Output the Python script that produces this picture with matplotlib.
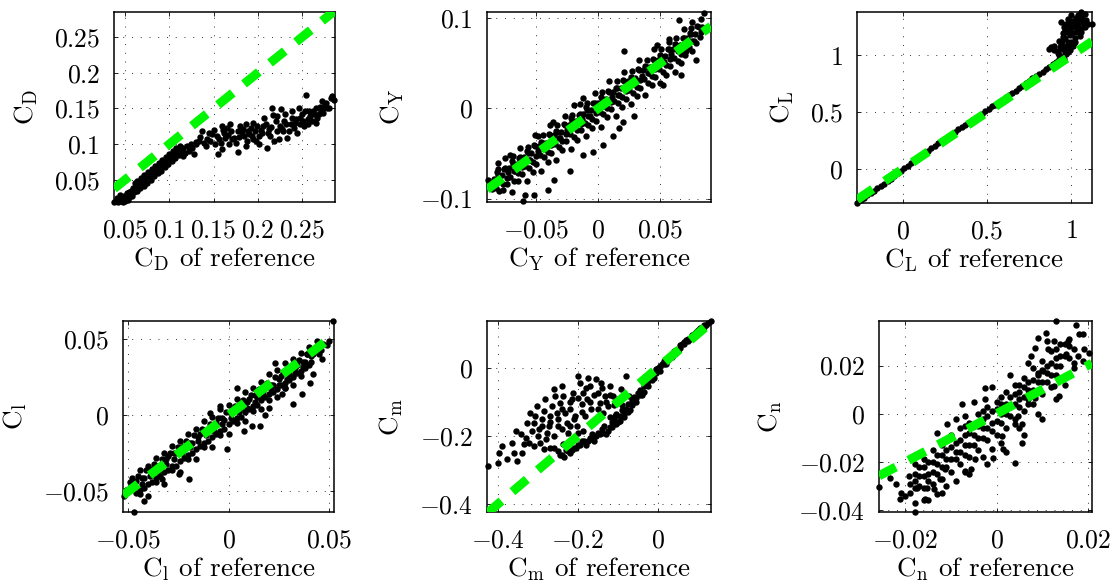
import numpy as np
import matplotlib.pyplot as plt

plt.rcParams['font.family'] = 'serif'
plt.rcParams['font.serif'] = ['cmr10']
plt.rcParams['mathtext.fontset'] = 'cm'
plt.rcParams['axes.formatter.use_mathtext'] = True

# (reference, estimate) pairs for each coefficient
cd_pts = [
    (0.038, 0.019), (0.040, 0.021), (0.042, 0.019), (0.043, 0.023), (0.045, 0.020),
    (0.047, 0.022), (0.048, 0.019), (0.050, 0.021), (0.051, 0.024), (0.053, 0.022),
    (0.046, 0.026), (0.041, 0.025), (0.055, 0.026), (0.056, 0.030), (0.058, 0.027),
    (0.049, 0.028), (0.052, 0.031), (0.060, 0.033), (0.057, 0.035), (0.044, 0.029),
    (0.062, 0.041), (0.063, 0.034), (0.064, 0.048), (0.066, 0.045), (0.067, 0.038),
    (0.068, 0.053), (0.070, 0.050), (0.071, 0.042), (0.072, 0.057), (0.074, 0.054),
    (0.075, 0.046), (0.076, 0.061), (0.078, 0.058), (0.079, 0.050), (0.080, 0.065),
    (0.082, 0.062), (0.083, 0.055), (0.084, 0.069), (0.086, 0.067), (0.087, 0.059),
    (0.088, 0.073), (0.090, 0.071), (0.091, 0.063), (0.092, 0.078), (0.094, 0.075),
    (0.095, 0.068), (0.096, 0.082), (0.098, 0.079), (0.099, 0.072), (0.100, 0.086),
    (0.102, 0.084), (0.103, 0.076), (0.104, 0.090), (0.106, 0.088), (0.107, 0.080),
    (0.108, 0.094), (0.110, 0.092), (0.111, 0.085), (0.112, 0.097),
    (0.054, 0.033), (0.059, 0.038), (0.061, 0.045), (0.065, 0.042), (0.069, 0.047),
    (0.073, 0.051), (0.077, 0.055), (0.081, 0.059), (0.085, 0.063), (0.089, 0.068),
    (0.093, 0.072), (0.097, 0.076), (0.101, 0.080), (0.105, 0.084), (0.109, 0.089),
    (0.113, 0.090),
    (0.115, 0.094), (0.118, 0.088), (0.120, 0.097), (0.122, 0.091), (0.124, 0.100),
    (0.126, 0.094), (0.128, 0.086), (0.130, 0.103), (0.116, 0.083),
    (0.137, 0.118), (0.143, 0.107), (0.148, 0.114), (0.152, 0.100), (0.155, 0.086),
    (0.160, 0.093), (0.165, 0.123), (0.169, 0.128), (0.173, 0.109), (0.177, 0.089),
    (0.180, 0.125), (0.184, 0.111), (0.188, 0.104), (0.192, 0.123), (0.195, 0.130),
    (0.201, 0.111), (0.207, 0.137), (0.210, 0.095), (0.216, 0.151), (0.222, 0.118),
    (0.226, 0.149), (0.229, 0.132), (0.233, 0.109), (0.237, 0.128), (0.241, 0.123),
    (0.246, 0.151), (0.248, 0.137), (0.252, 0.125), (0.254, 0.169), (0.258, 0.146),
    (0.261, 0.132), (0.265, 0.151), (0.269, 0.142), (0.272, 0.161), (0.276, 0.156),
    (0.282, 0.165), (0.284, 0.167), (0.212, 0.121), (0.205, 0.116), (0.197, 0.118),
    (0.190, 0.114), (0.182, 0.117), (0.171, 0.107), (0.163, 0.109), (0.156, 0.107),
    (0.141, 0.097), (0.133, 0.104), (0.130, 0.100), (0.145, 0.116), (0.162, 0.116),
    (0.167, 0.100), (0.178, 0.118), (0.194, 0.107), (0.199, 0.125), (0.209, 0.128),
    (0.214, 0.111), (0.220, 0.132), (0.227, 0.121), (0.231, 0.142), (0.239, 0.137),
    (0.242, 0.130), (0.250, 0.142), (0.256, 0.135), (0.259, 0.139), (0.263, 0.142),
    (0.267, 0.137), (0.271, 0.146), (0.273, 0.151), (0.278, 0.151), (0.224, 0.107),
    (0.201, 0.100),
    (0.135, 0.110), (0.139, 0.101), (0.146, 0.104), (0.150, 0.120), (0.154, 0.112),
    (0.158, 0.102), (0.161, 0.120), (0.166, 0.113), (0.170, 0.118), (0.175, 0.102),
    (0.179, 0.110), (0.183, 0.121), (0.186, 0.098), (0.189, 0.118), (0.193, 0.112),
    (0.198, 0.104), (0.203, 0.120), (0.206, 0.126), (0.211, 0.116), (0.215, 0.124),
    (0.218, 0.104), (0.221, 0.140), (0.225, 0.126), (0.228, 0.118), (0.232, 0.128),
    (0.235, 0.119), (0.238, 0.146), (0.243, 0.135), (0.247, 0.128), (0.251, 0.133),
    (0.253, 0.146), (0.257, 0.128), (0.262, 0.146), (0.266, 0.130), (0.270, 0.152),
    (0.274, 0.144), (0.277, 0.158), (0.280, 0.150), (0.286, 0.162), (0.244, 0.116),
    (0.217, 0.141), (0.187, 0.128), (0.159, 0.126),
]

cy_pts = [
    (-0.085, -0.083), (-0.079, -0.080), (-0.073, -0.071), (-0.067, -0.069), (-0.061, -0.060),
    (-0.055, -0.057), (-0.049, -0.047), (-0.043, -0.045), (-0.037, -0.036), (-0.031, -0.033),
    (-0.025, -0.024), (-0.019, -0.021), (-0.013, -0.012), (-0.007, -0.009), (-0.001, 0.001),
    (0.005, 0.003), (0.011, 0.012), (0.017, 0.015), (0.023, 0.024), (0.029, 0.027),
    (0.035, 0.036), (0.041, 0.039), (0.047, 0.048), (0.053, 0.051), (0.059, 0.060),
    (0.065, 0.063), (0.071, 0.072), (0.077, 0.075), (0.083, 0.084),
    (-0.082, -0.071), (-0.076, -0.067), (-0.070, -0.058), (-0.064, -0.055), (-0.058, -0.047),
    (-0.052, -0.041), (-0.046, -0.037), (-0.040, -0.029), (-0.034, -0.025), (-0.028, -0.017),
    (-0.022, -0.011), (-0.016, -0.007), (-0.010, 0.001), (-0.004, 0.006), (0.002, 0.012),
    (0.008, 0.019), (0.014, 0.023), (0.020, 0.031), (0.026, 0.035), (0.032, 0.043),
    (0.038, 0.047), (0.044, 0.055), (0.050, 0.059), (0.056, 0.066), (0.062, 0.071),
    (0.068, 0.078), (0.074, 0.083), (0.080, 0.091),
    (-0.080, -0.092), (-0.074, -0.084), (-0.068, -0.080), (-0.062, -0.073), (-0.056, -0.066),
    (-0.050, -0.062), (-0.044, -0.054), (-0.038, -0.050), (-0.032, -0.043), (-0.026, -0.036),
    (-0.020, -0.032), (-0.014, -0.024), (-0.008, -0.019), (-0.002, -0.014), (0.004, -0.006),
    (0.010, -0.001), (0.016, 0.006), (0.022, 0.010), (0.028, 0.017), (0.034, 0.023),
    (0.040, 0.028), (0.046, 0.035), (0.052, 0.040), (0.058, 0.047), (0.064, 0.052),
    (0.070, 0.059), (0.076, 0.064),
    (-0.084, -0.078), (-0.078, -0.074), (-0.072, -0.066), (-0.066, -0.062), (-0.060, -0.054),
    (-0.054, -0.050), (-0.048, -0.042), (-0.042, -0.038), (-0.036, -0.030), (-0.030, -0.026),
    (-0.024, -0.018), (-0.018, -0.014), (-0.012, -0.006), (-0.006, -0.002), (0.000, 0.006),
    (0.006, 0.010), (0.012, 0.018), (0.018, 0.022), (0.024, 0.030), (0.030, 0.034),
    (0.036, 0.042), (0.042, 0.046), (0.048, 0.054), (0.054, 0.058), (0.060, 0.066),
    (0.066, 0.070), (0.072, 0.078), (0.078, 0.082), (0.084, 0.090),
    (-0.083, -0.088), (-0.077, -0.084), (-0.071, -0.076), (-0.065, -0.072), (-0.059, -0.064),
    (-0.053, -0.060), (-0.047, -0.052), (-0.041, -0.048), (-0.035, -0.040), (-0.029, -0.036),
    (-0.023, -0.028), (-0.017, -0.024), (-0.011, -0.016), (-0.005, -0.012), (0.001, -0.004),
    (0.007, 0.000), (0.013, 0.008), (0.019, 0.012), (0.025, 0.020), (0.031, 0.024),
    (0.037, 0.032), (0.043, 0.036), (0.049, 0.044), (0.055, 0.048), (0.061, 0.056),
    (0.067, 0.060), (0.073, 0.068), (0.079, 0.072),
    (-0.086, -0.089), (-0.080, -0.081), (-0.074, -0.077), (-0.068, -0.069), (-0.062, -0.065),
    (-0.056, -0.057), (-0.050, -0.053), (-0.044, -0.045), (-0.038, -0.041), (-0.032, -0.033),
    (-0.026, -0.029), (-0.020, -0.021), (-0.014, -0.017), (-0.008, -0.009), (-0.002, -0.005),
    (0.004, 0.003), (0.010, 0.007), (0.016, 0.015), (0.022, 0.019), (0.028, 0.027),
    (0.034, 0.031), (0.040, 0.039), (0.046, 0.043), (0.052, 0.051), (0.058, 0.055),
    (0.064, 0.063), (0.070, 0.067), (0.076, 0.075), (0.082, 0.079),
    (-0.081, -0.074), (-0.075, -0.066), (-0.069, -0.062), (-0.063, -0.054), (-0.057, -0.050),
    (-0.051, -0.042), (-0.045, -0.038), (-0.039, -0.030), (-0.033, -0.026), (-0.027, -0.018),
    (-0.021, -0.014), (-0.015, -0.006), (-0.009, -0.002), (-0.003, 0.006), (0.003, 0.010),
    (0.009, 0.018), (0.015, 0.022), (0.021, 0.030), (0.027, 0.034), (0.033, 0.042),
    (0.039, 0.046), (0.045, 0.054), (0.051, 0.058), (0.057, 0.066), (0.063, 0.070),
    (0.069, 0.078), (0.075, 0.082), (0.081, 0.090),
    (-0.070, -0.093), (-0.058, -0.081), (-0.046, -0.069), (-0.034, -0.057), (-0.022, -0.045),
    (-0.010, -0.031), (0.002, -0.021), (0.014, -0.009), (0.026, 0.005), (0.038, 0.015),
    (0.050, 0.028), (0.062, 0.040),
    (-0.065, -0.081), (-0.053, -0.071), (-0.041, -0.059), (-0.029, -0.046), (-0.017, -0.035),
    (-0.005, -0.022), (0.007, -0.010), (0.019, 0.001), (0.031, 0.014), (0.043, 0.026),
    (0.055, 0.037), (0.067, 0.050),
    (-0.075, -0.055), (-0.063, -0.044), (-0.051, -0.030), (-0.039, -0.019), (-0.027, -0.008),
    (-0.015, 0.005), (-0.003, 0.017), (0.009, 0.030), (0.021, 0.040), (0.033, 0.053),
    (0.045, 0.066), (0.057, 0.077), (0.069, 0.088),
    (-0.081, -0.067), (-0.069, -0.053), (-0.057, -0.043), (-0.045, -0.030), (-0.033, -0.018),
    (-0.021, -0.007), (-0.009, 0.006), (0.003, 0.018), (0.015, 0.030), (0.027, 0.041),
    (0.039, 0.054), (0.051, 0.066), (0.063, 0.078), (0.075, 0.089),
    (0.085, 0.106), (0.065, 0.098), (0.076, 0.096), (0.083, 0.099), (0.021, 0.064),
    (0.071, 0.063), (0.079, 0.053), (0.067, 0.037), (0.052, 0.026), (0.029, -0.009),
    (0.020, -0.015), (0.017, -0.022), (0.012, -0.031), (0.004, -0.041), (-0.004, -0.048),
    (-0.012, -0.052), (-0.023, -0.070), (-0.036, -0.079), (-0.041, -0.090), (-0.052, -0.096),
    (-0.059, -0.096), (-0.061, -0.103), (-0.077, -0.090), (-0.089, -0.079), (-0.081, -0.061),
    (-0.071, -0.052), (-0.037, -0.015), (-0.049, -0.031), (-0.020, 0.004), (-0.012, 0.011),
    (0.057, 0.074), (0.047, 0.070),
]

cl_pts = [
    (-0.271, -0.300), (-0.25, -0.272), (-0.23, -0.255), (-0.21, -0.232), (-0.19, -0.214),
    (-0.17, -0.190), (-0.15, -0.172), (-0.13, -0.148), (-0.11, -0.130), (-0.09, -0.106),
    (-0.07, -0.086), (-0.05, -0.062), (-0.03, -0.040), (-0.01, -0.018), (0.01, 0.008),
    (0.03, 0.026), (0.05, 0.052), (0.07, 0.071), (0.09, 0.096), (0.11, 0.113),
    (0.13, 0.140), (0.15, 0.157), (0.17, 0.182), (0.19, 0.200), (0.21, 0.226),
    (0.23, 0.243), (0.25, 0.268), (0.27, 0.285), (0.29, 0.310), (0.31, 0.326),
    (0.33, 0.350), (0.35, 0.366), (0.37, 0.390), (0.39, 0.406), (0.41, 0.430),
    (0.43, 0.446), (0.45, 0.470), (0.47, 0.486), (0.49, 0.510), (0.51, 0.526),
    (0.53, 0.550), (0.55, 0.566), (0.57, 0.590), (0.59, 0.606), (0.61, 0.630),
    (0.63, 0.648), (0.65, 0.672), (0.67, 0.690), (0.69, 0.714), (0.71, 0.730),
    (0.73, 0.756), (0.75, 0.772), (0.77, 0.798), (0.79, 0.815), (0.81, 0.840),
    (0.83, 0.858), (0.85, 0.884), (0.87, 0.900), (0.89, 0.926), (0.91, 0.946),
    (0.93, 0.970), (0.95, 0.990), (0.97, 1.010),
    (0.879, 1.073), (0.899, 1.044), (0.869, 1.059), (0.939, 1.294), (0.998, 1.353),
    (1.040, 1.359), (1.079, 1.368), (1.099, 1.279), (1.122, 1.279), (1.059, 1.206),
    (1.020, 1.118), (0.978, 1.029), (0.958, 0.971), (0.929, 1.000), (0.998, 1.250),
    (0.94, 1.10), (0.95, 1.16), (0.96, 1.22), (0.97, 1.28), (0.98, 1.12),
    (0.99, 1.18), (1.00, 1.24), (1.01, 1.30), (1.02, 1.15), (1.03, 1.21),
    (1.04, 1.27), (1.05, 1.17), (1.06, 1.23), (1.07, 1.29), (0.95, 1.06),
    (0.97, 1.08), (0.99, 1.05), (1.01, 1.08), (0.93, 1.13), (0.96, 1.27),
    (0.98, 1.32), (1.03, 1.33), (1.08, 1.25), (1.09, 1.31), (0.92, 1.04),
    (0.90, 1.08), (0.96, 1.02), (1.00, 1.12), (1.06, 1.38), (0.95, 1.20),
    (0.935, 1.07), (0.945, 1.13), (0.955, 1.25), (0.965, 1.15), (0.975, 1.21),
    (0.985, 1.26), (0.995, 1.30), (1.005, 1.20), (1.015, 1.26), (1.025, 1.29),
    (1.035, 1.24), (1.045, 1.31), (1.055, 1.35), (1.065, 1.33), (1.075, 1.27),
    (0.985, 1.09), (1.015, 1.11), (1.045, 1.21), (0.965, 1.05), (0.92, 1.02),
]

croll_pts = [
    (-0.050, -0.049), (-0.046, -0.043), (-0.042, -0.041), (-0.038, -0.035), (-0.034, -0.033),
    (-0.030, -0.027), (-0.026, -0.025), (-0.022, -0.020), (-0.018, -0.018), (-0.014, -0.012),
    (-0.010, -0.010), (-0.006, -0.005), (-0.002, -0.003), (0.002, 0.003), (0.006, 0.005),
    (0.010, 0.011), (0.014, 0.012), (0.018, 0.018), (0.022, 0.020), (0.026, 0.026),
    (0.030, 0.027), (0.034, 0.033), (0.038, 0.035), (0.042, 0.040), (0.046, 0.043),
    (0.050, 0.049),
    (-0.048, -0.041), (-0.044, -0.036), (-0.040, -0.033), (-0.036, -0.028), (-0.032, -0.025),
    (-0.028, -0.020), (-0.024, -0.017), (-0.020, -0.012), (-0.016, -0.009), (-0.012, -0.004),
    (-0.008, -0.001), (-0.004, 0.004), (0.000, 0.007), (0.004, 0.011), (0.008, 0.015),
    (0.012, 0.018), (0.016, 0.022), (0.020, 0.027), (0.024, 0.030), (0.028, 0.034),
    (0.032, 0.037), (0.036, 0.041), (0.040, 0.045), (0.044, 0.049),
    (-0.049, -0.044), (-0.045, -0.040), (-0.041, -0.036), (-0.037, -0.032), (-0.033, -0.029),
    (-0.029, -0.025), (-0.025, -0.021), (-0.021, -0.017), (-0.017, -0.013), (-0.013, -0.009),
    (-0.009, -0.006), (-0.005, -0.002), (-0.001, 0.002), (0.003, 0.006), (0.007, 0.010),
    (0.011, 0.013), (0.015, 0.017), (0.019, 0.021), (0.023, 0.025), (0.027, 0.028),
    (0.031, 0.032), (0.035, 0.036), (0.039, 0.040), (0.043, 0.044), (0.047, 0.047),
    (-0.047, -0.048), (-0.043, -0.045), (-0.039, -0.040), (-0.035, -0.037), (-0.031, -0.032),
    (-0.027, -0.029), (-0.023, -0.025), (-0.019, -0.021), (-0.015, -0.017), (-0.011, -0.013),
    (-0.007, -0.010), (-0.003, -0.006), (0.001, -0.002), (0.005, 0.002), (0.009, 0.005),
    (0.013, 0.009), (0.017, 0.013), (0.021, 0.017), (0.025, 0.020), (0.029, 0.024),
    (0.033, 0.028), (0.037, 0.032), (0.041, 0.035), (0.045, 0.040),
    (-0.051, -0.049), (-0.047, -0.045), (-0.043, -0.041), (-0.039, -0.036), (-0.035, -0.033),
    (-0.031, -0.029), (-0.027, -0.025), (-0.023, -0.021), (-0.019, -0.018), (-0.015, -0.014),
    (-0.011, -0.010), (-0.007, -0.006), (-0.003, -0.002), (0.001, 0.002), (0.005, 0.005),
    (0.009, 0.009), (0.013, 0.013), (0.017, 0.016), (0.021, 0.020), (0.025, 0.024),
    (0.029, 0.028), (0.033, 0.031), (0.037, 0.035), (0.041, 0.039), (0.045, 0.042),
    (0.049, 0.046),
    (-0.044, -0.049), (-0.040, -0.045), (-0.036, -0.041), (-0.032, -0.037), (-0.028, -0.033),
    (-0.024, -0.030), (-0.020, -0.026), (-0.016, -0.022), (-0.012, -0.018), (-0.008, -0.014),
    (-0.004, -0.010), (0.000, -0.006), (0.004, -0.002), (0.008, 0.002), (0.012, 0.006),
    (0.016, 0.010), (0.020, 0.014), (0.024, 0.017), (0.028, 0.021), (0.032, 0.025),
    (0.036, 0.029), (0.040, 0.033),
    (-0.046, -0.051), (-0.042, -0.048), (-0.038, -0.044), (-0.034, -0.040), (-0.030, -0.036),
    (-0.026, -0.033), (-0.022, -0.028), (-0.018, -0.025), (-0.014, -0.020), (-0.010, -0.017),
    (-0.006, -0.012), (-0.002, -0.009), (0.002, -0.004), (0.006, -0.001), (0.010, 0.004),
    (0.014, 0.007), (0.018, 0.012), (0.022, 0.015), (0.026, 0.020), (0.030, 0.023),
    (0.034, 0.028), (0.038, 0.031),
    (-0.044, -0.052), (-0.036, -0.044), (-0.028, -0.036), (-0.020, -0.029), (-0.012, -0.021),
    (-0.004, -0.013), (0.004, -0.005), (0.012, 0.003), (0.020, 0.010), (0.028, 0.018),
    (0.036, 0.026),
    (-0.040, -0.053), (-0.032, -0.045), (-0.024, -0.037), (-0.016, -0.029), (-0.008, -0.021),
    (0.000, -0.012), (0.008, -0.004), (0.016, 0.004), (0.024, 0.012), (0.032, 0.020),
    (0.0522, 0.0619), (0.0464, 0.0368), (0.0406, 0.0214), (0.0423, 0.0269), (0.0365, 0.0138),
    (0.0323, 0.0072), (0.0265, 0.0138), (0.0158, -0.0070), (0.0116, -0.0070), (0.0075, -0.0103),
    (-0.0005, -0.0223), (-0.0091, 0.0018), (-0.0041, 0.0061), (0.0041, 0.0182), (-0.0199, -0.0420),
    (-0.0249, -0.0387), (-0.0332, -0.0420), (-0.0473, -0.0632), (-0.0423, -0.0562), (-0.0522, -0.0530),
    (0.0232, 0.0346), (0.0390, 0.0400), (0.0200, 0.0050), (0.0280, 0.0180), (0.0180, 0.0000),
]

cm_pts = [
    (-0.25, -0.245), (-0.24, -0.255), (-0.23, -0.240), (-0.22, -0.250), (-0.21, -0.235),
    (-0.20, -0.225), (-0.19, -0.215), (-0.18, -0.225), (-0.17, -0.205), (-0.165, -0.195),
    (-0.16, -0.215), (-0.15, -0.190), (-0.14, -0.180), (-0.135, -0.170), (-0.13, -0.195),
    (-0.12, -0.175), (-0.115, -0.160), (-0.11, -0.150), (-0.10, -0.160), (-0.095, -0.140),
    (-0.09, -0.125), (-0.085, -0.145), (-0.08, -0.120), (-0.075, -0.105), (-0.07, -0.125),
    (-0.065, -0.095), (-0.06, -0.085), (-0.055, -0.100), (-0.05, -0.075), (-0.045, -0.065),
    (-0.04, -0.080), (-0.035, -0.055), (-0.03, -0.045), (-0.025, -0.055), (-0.02, -0.030),
    (-0.015, -0.020), (-0.01, -0.030), (-0.005, -0.005), (0.0, 0.000), (0.005, -0.010),
    (0.01, 0.012), (0.015, 0.020), (0.02, 0.012), (0.025, 0.030), (0.03, 0.035),
    (0.035, 0.030), (0.04, 0.048), (0.045, 0.050), (0.05, 0.050), (0.055, 0.065),
    (0.06, 0.068), (0.065, 0.070), (0.07, 0.080), (0.075, 0.085), (0.08, 0.085),
    (0.085, 0.095), (0.09, 0.098), (0.095, 0.100), (0.10, 0.110), (0.105, 0.115),
    (0.11, 0.115), (0.115, 0.120), (0.12, 0.126), (0.125, 0.130), (0.132, 0.137),
    (-0.245, -0.255), (-0.235, -0.260), (-0.225, -0.245), (-0.215, -0.240), (-0.205, -0.235),
    (-0.195, -0.225), (-0.185, -0.215), (-0.175, -0.215), (-0.165, -0.210), (-0.155, -0.200),
    (-0.145, -0.195), (-0.140, -0.190), (-0.125, -0.185), (-0.115, -0.175), (-0.105, -0.165),
    (-0.095, -0.155), (-0.085, -0.135), (-0.075, -0.130), (-0.065, -0.110), (-0.055, -0.090),
    (-0.045, -0.080), (-0.035, -0.070), (-0.025, -0.040), (-0.015, -0.035), (-0.005, -0.015),
    (0.005, 0.005), (0.015, 0.010), (0.025, 0.022), (0.035, 0.040), (0.045, 0.042),
    (0.055, 0.058), (0.065, 0.075), (0.075, 0.078), (0.085, 0.090), (0.095, 0.105),
    (0.105, 0.108), (0.115, 0.125), (-0.120, -0.145), (-0.105, -0.135), (-0.090, -0.110),
    (-0.4247, -0.2878), (-0.3959, -0.2488), (-0.4000, -0.2780), (-0.3877, -0.2293), (-0.3754, -0.2683),
    (-0.3631, -0.2195), (-0.3590, -0.2488), (-0.3507, -0.2732), (-0.3548, -0.1854), (-0.3425, -0.1951),
    (-0.3343, -0.2244), (-0.3302, -0.2049), (-0.3261, -0.1610), (-0.3179, -0.1317), (-0.3138, -0.1854),
    (-0.3097, -0.1610), (-0.3056, -0.1415), (-0.3015, -0.1122), (-0.2974, -0.1805), (-0.2932, -0.2195),
    (-0.2891, -0.1512), (-0.2850, -0.1268), (-0.2809, -0.0927), (-0.2768, -0.1902), (-0.2727, -0.1707),
    (-0.2686, -0.1415), (-0.2645, -0.1122), (-0.2604, -0.0634), (-0.2563, -0.0829), (-0.2522, -0.1317),
    (-0.2481, -0.1707), (-0.2440, -0.1024), (-0.2398, -0.0537), (-0.2357, -0.0829), (-0.2316, -0.1317),
    (-0.2275, -0.1610), (-0.2234, -0.1902), (-0.2193, -0.1220), (-0.2152, -0.0927), (-0.2111, -0.0732),
    (-0.2070, -0.1415), (-0.2029, -0.1707), (-0.1988, -0.0244), (-0.1947, -0.0439), (-0.1906, -0.1073),
    (-0.1865, -0.0732), (-0.1824, -0.1415), (-0.1782, -0.0927), (-0.1741, -0.0293), (-0.1700, -0.0537),
    (-0.1659, -0.1220), (-0.1618, -0.1610), (-0.1536, -0.0341), (-0.1495, -0.0732), (-0.1454, -0.1024),
    (-0.1413, -0.0439), (-0.1372, -0.1317), (-0.1331, -0.0829), (-0.1249, -0.1122), (-0.1207, -0.0537),
    (-0.1125, -0.0829), (-0.1084, -0.1415), (-0.1002, -0.0927), (-0.0920, -0.0634), (-0.0797, -0.0244),
    (-0.0715, -0.0829), (-0.3220, -0.2195), (-0.2604, -0.2341), (-0.2357, -0.2244), (-0.2111, -0.2098),
    (-0.1865, -0.1854), (-0.2686, -0.2341), (-0.2850, -0.2390),
    (-0.300, -0.200), (-0.290, -0.170), (-0.270, -0.160), (-0.250, -0.150), (-0.240, -0.120),
    (-0.220, -0.100), (-0.210, -0.150), (-0.200, -0.090), (-0.190, -0.130), (-0.180, -0.060),
    (-0.170, -0.100), (-0.160, -0.080), (-0.150, -0.120), (-0.140, -0.060), (-0.130, -0.100),
    (-0.120, -0.080), (-0.110, -0.110), (-0.260, -0.200), (-0.240, -0.180), (-0.220, -0.170),
    (-0.200, -0.190), (-0.340, -0.250), (-0.310, -0.230), (-0.280, -0.210),
]

cn_pts = [
    (-0.019, -0.029), (-0.017, -0.026), (-0.015, -0.025), (-0.013, -0.021), (-0.011, -0.019),
    (-0.009, -0.016), (-0.007, -0.013), (-0.005, -0.009), (-0.003, -0.006), (-0.001, -0.004),
    (0.001, 0.000), (0.003, 0.003), (0.005, 0.006), (0.007, 0.010), (0.009, 0.013),
    (0.011, 0.017), (0.013, 0.020), (0.015, 0.024), (0.017, 0.027),
    (-0.018, -0.021), (-0.016, -0.019), (-0.014, -0.015), (-0.012, -0.013), (-0.010, -0.009),
    (-0.008, -0.006), (-0.006, -0.004), (-0.004, 0.000), (-0.002, 0.003), (0.000, 0.005),
    (0.002, 0.009), (0.004, 0.012), (0.006, 0.015), (0.008, 0.019), (0.010, 0.022),
    (0.012, 0.026), (0.014, 0.029),
    (-0.020, -0.034), (-0.016, -0.031), (-0.014, -0.029), (-0.012, -0.027), (-0.010, -0.024),
    (-0.008, -0.021), (-0.006, -0.018), (-0.004, -0.015), (-0.002, -0.011), (0.000, -0.009),
    (0.002, -0.006), (0.004, -0.002), (0.006, 0.001), (0.008, 0.004), (0.010, 0.008),
    (0.012, 0.011), (0.014, 0.015),
    (-0.018, -0.025), (-0.016, -0.022), (-0.014, -0.020), (-0.012, -0.017), (-0.010, -0.014),
    (-0.008, -0.011), (-0.006, -0.008), (-0.004, -0.005), (-0.002, -0.001), (0.000, 0.002),
    (0.002, 0.004), (0.004, 0.008), (0.006, 0.011), (0.008, 0.014), (0.010, 0.018),
    (0.012, 0.021), (0.014, 0.024), (0.016, 0.028),
    (-0.019, -0.033), (-0.017, -0.030), (-0.015, -0.028), (-0.013, -0.025), (-0.011, -0.022),
    (-0.009, -0.019), (-0.007, -0.017), (-0.005, -0.013), (-0.003, -0.010), (-0.001, -0.007),
    (0.001, -0.004), (0.003, -0.001), (0.005, 0.003), (0.007, 0.006), (0.009, 0.009),
    (0.011, 0.013), (0.013, 0.016),
    (-0.017, -0.022), (-0.015, -0.020), (-0.013, -0.017), (-0.011, -0.015), (-0.009, -0.012),
    (-0.007, -0.009), (-0.005, -0.005), (-0.003, -0.002), (-0.001, 0.001), (0.001, 0.004),
    (0.003, 0.007), (0.005, 0.009), (0.007, 0.013), (0.009, 0.016), (0.011, 0.020),
    (0.013, 0.027), (0.015, 0.029),
    (-0.018, -0.028), (-0.016, -0.026), (-0.014, -0.024), (-0.012, -0.022), (-0.010, -0.019),
    (-0.008, -0.016), (-0.006, -0.013), (-0.004, -0.010), (-0.002, -0.006), (0.000, -0.003),
    (0.002, 0.000), (0.004, 0.004), (0.006, 0.007), (0.008, 0.010), (0.010, 0.013),
    (0.012, 0.016), (0.014, 0.020), (0.016, 0.023),
    (-0.013, -0.008), (-0.009, -0.002), (-0.005, 0.005), (-0.001, 0.011), (0.003, 0.016),
    (0.007, 0.021), (0.011, 0.030),
    (-0.011, -0.011), (-0.007, -0.005), (-0.003, 0.001), (0.001, 0.007), (0.005, 0.012),
    (0.009, 0.017), (0.013, 0.023), (0.016, 0.031), (0.018, 0.033),
    (-0.015, -0.036), (-0.011, -0.030), (-0.007, -0.024), (-0.003, -0.018), (0.001, -0.012),
    (0.005, -0.006), (0.009, 0.000), (0.013, 0.006),
    (-0.021, -0.033), (-0.022, -0.029), (-0.018, -0.031), (-0.016, -0.036), (-0.012, -0.033),
    (-0.009, -0.028), (-0.006, -0.025), (-0.002, -0.021), (0.002, -0.016), (0.006, -0.009),
    (0.010, -0.002), (0.015, 0.012), (0.017, 0.019), (0.019, 0.022),
    (0.0131, 0.0385), (0.0175, 0.0367), (0.0189, 0.0329), (0.0156, 0.0302), (0.0109, 0.0336),
    (0.0091, 0.0316), (0.0127, 0.0302), (0.0084, 0.0274), (0.0076, 0.0239), (0.0113, 0.0267),
    (0.0153, 0.0246), (0.0178, 0.0239), (0.0193, 0.0267), (0.0204, 0.0253), (0.0171, 0.0212),
    (0.0102, 0.0177), (0.0127, 0.0115), (0.0138, 0.0073), (0.0084, 0.0066), (0.0069, 0.0039),
    (0.0047, -0.0010), (0.0040, -0.0044), (0.0055, -0.0044), (0.0055, -0.0120), (0.0011, -0.0093),
    (0.0015, -0.0148), (-0.0011, -0.0148), (-0.0007, -0.0183), (0.0040, -0.0203), (-0.0047, -0.0190),
    (-0.0055, -0.0231), (-0.0069, -0.0238), (-0.0113, -0.0231), (-0.0124, -0.0273), (-0.0138, -0.0314),
    (-0.0153, -0.0307), (-0.0175, -0.0307), (-0.0178, -0.0370), (-0.0156, -0.0356), (-0.0131, -0.0335),
    (-0.0211, -0.0356), (-0.0233, -0.0266), (-0.0258, -0.0303), (-0.0193, -0.0259), (-0.0180, -0.0406),
    (-0.0109, -0.0044), (-0.0076, 0.0039), (-0.0069, -0.0010), (-0.0025, 0.0108), (-0.0025, 0.0060),
]

names = ['D', 'Y', 'L', 'l', 'm', 'n']
allPts = [cd_pts, cy_pts, cl_pts, croll_pts, cm_pts, cn_pts]

# axis limits and ticks (MATLAB style 'axis tight')
xlims = [(0.0376, 0.287), (-0.0899, 0.091), (-0.271, 1.123),
         (-0.0526, 0.0526), (-0.4263, 0.1322), (-0.0258, 0.02095)]
ylims = [(0.019, 0.285), (-0.1038, 0.1067), (-0.300, 1.382),
         (-0.0635, 0.0619), (-0.4224, 0.1366), (-0.0408, 0.0385)]
xticks = [[0.05, 0.1, 0.15, 0.2, 0.25], [-0.05, 0, 0.05], [0, 0.5, 1],
          [-0.05, 0, 0.05], [-0.4, -0.2, 0], [-0.02, 0, 0.02]]
yticks = [[0.05, 0.1, 0.15, 0.2, 0.25], [-0.1, 0, 0.1], [0, 0.5, 1],
          [-0.05, 0, 0.05], [-0.4, -0.2, 0], [-0.04, -0.02, 0, 0.02]]

# axes boxes in pixels: left, top, right, bottom
boxes = [(114, 12, 335, 202), (487, 12, 711, 202), (857, 12, 1092, 203),
         (123, 321, 334, 512), (487, 321, 711, 512), (879, 321, 1092, 512)]

W, H = 1117, 585
fig = plt.figure(figsize=(W / 100, H / 100), dpi=100)

for i in range(6):
    l, t, r, b = boxes[i]
    ax = fig.add_axes([l / W, 1 - b / H, (r - l) / W, (b - t) / H])
    pts = np.array(allPts[i])
    ax.plot(pts[:, 0], pts[:, 1], 'o', color='k', ms=4.6, mew=0, clip_on=False, zorder=3)
    # perfect agreement line
    ax.plot(xlims[i], xlims[i], color='#00f500', lw=6.5, dashes=(2.1, 1.6), zorder=4)
    ax.set_xlim(xlims[i])
    ax.set_ylim(ylims[i])
    ax.set_xticks(xticks[i])
    ax.set_yticks(yticks[i])
    ax.set_xticklabels(['$%g$' % v for v in xticks[i]])
    ax.set_yticklabels(['$%g$' % v for v in yticks[i]])
    ax.tick_params(direction='in', length=3, width=0.6, top=True, right=True,
                   labelsize=18.5, colors='k')
    ax.tick_params(axis='x', pad=12)
    ax.tick_params(axis='y', pad=10)
    ax.grid(True, color='0.2', lw=0.7, linestyle=(0, (1, 8)))
    ax.set_axisbelow(True)
    for s in ax.spines.values():
        s.set_linewidth(1.1)
    ax.set_xlabel(r'$\mathrm{C_{%s}}$ of reference' % names[i], fontsize=19.5, labelpad=2)
    ax.set_ylabel(r'$\mathrm{C_{%s}}$' % names[i], fontsize=19.5, labelpad=10)

fig.savefig('out.png', dpi=100)
